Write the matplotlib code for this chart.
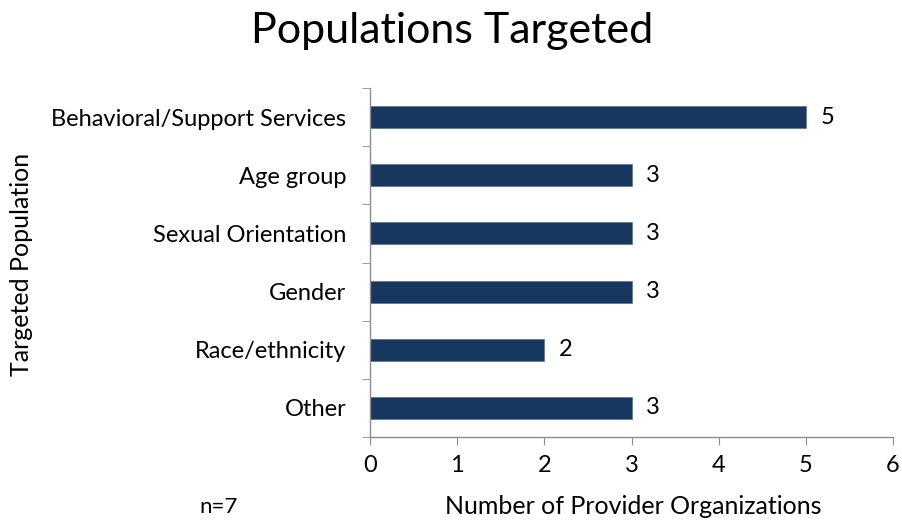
import matplotlib
matplotlib.use("Agg")
import matplotlib.pyplot as plt
import numpy as np

categories = ["Behavioral/Support Services", "Age group", "Sexual Orientation",
              "Gender", "Race/ethnicity", "Other"]
values = [5, 3, 3, 3, 2, 3]
xticks = [0, 1, 2, 3, 4, 5, 6]

plt.rcParams['font.family'] = ['Lato', 'DejaVu Sans']
bar_color = "#17375E"
spine_color = "#8C8C8C"

fig = plt.figure(figsize=(9.03, 5.25), dpi=100)
ax = fig.add_axes([370/903, 1-437/525, (893-370)/903, (437-88)/525])

n = len(categories)
ypos = np.arange(n)[::-1]
ax.barh(ypos, values, height=0.38, color=bar_color, edgecolor="#5a6f8a", linewidth=0.5)
for y, v in zip(ypos, values):
    ax.text(v + 0.17, y, str(v), va="center", ha="left", fontsize=17, color="black")

ax.set_xlim(0, 6)
ax.set_ylim(-0.5, n - 0.5)
ax.set_xticks(xticks)
ax.set_xticklabels([str(t) for t in xticks], fontsize=17)
ax.set_yticks(ypos)
ax.set_yticklabels(categories, fontsize=17)
ax.tick_params(axis='y', which='major', length=0, pad=17)
ax.set_yticks(np.arange(-0.5, n, 1.0), minor=True)
ax.tick_params(axis='y', which='minor', length=6, color=spine_color, direction='out')
ax.tick_params(axis='x', which='major', length=6, color=spine_color, direction='out', pad=7)

for s in ['top', 'right']:
    ax.spines[s].set_visible(False)
for s in ['left', 'bottom']:
    ax.spines[s].set_color(spine_color)
    ax.spines[s].set_linewidth(1.0)

fig.text(452/903, 1-31/525, "Populations Targeted", ha="center", va="center", fontsize=31)
fig.text(22/903, 1-264/525, "Targeted Population", rotation=90, ha="center", va="center", fontsize=18)
fig.text(633/903, 1-507/525, "Number of Provider Organizations", ha="center", va="center", fontsize=18)
fig.text(219/903, 1-507/525, "n=7", ha="center", va="center", fontsize=16)

fig.savefig("out.png", dpi=100)
